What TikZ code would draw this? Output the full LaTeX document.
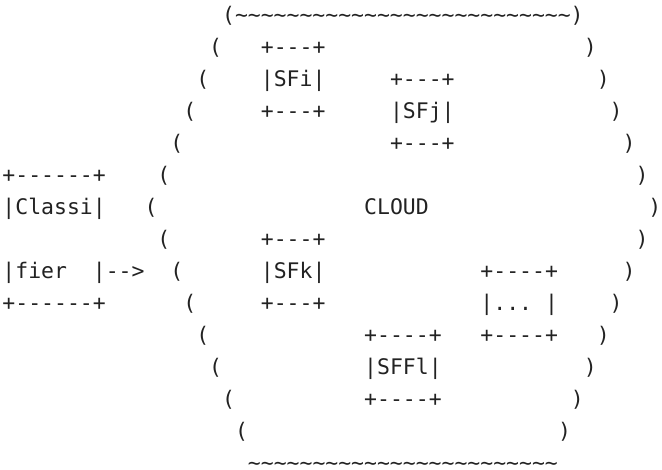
\documentclass[tikz,border=0pt]{standalone}
\usepackage{fontspec}
\newfontfamily\asciimono{DejaVu Sans Mono}[Ligatures=TeXOff]
\definecolor{ink}{HTML}{222222}
\begin{document}
\begin{tikzpicture}[x=12.92pt,y=-32pt,
  ch/.style={font=\asciimono\fontsize{21.45}{26}\selectfont, text=ink, inner sep=0pt, outer sep=0pt, anchor=base west}]
\useasboundingbox (0pt,0pt) rectangle (662pt,-470pt);
\begin{scope}[shift={(0.19,0.70)}]
% row 0
\node[ch] (top) at (17,0) {\detokenize{(~~~~~~~~~~~~~~~~~~~~~~~~~~)}};
% row 1
\node[ch] (l1) at (16,1) {(};
\node[ch] (sfiT) at (20,1) {+---+};
\node[ch] (r1) at (45,1) {)};
% row 2
\node[ch] (l2) at (15,2) {(};
\node[ch] (sfi) at (20,2) {|SFi|};
\node[ch] (sfjT) at (30,2) {+---+};
\node[ch] (r2) at (46,2) {)};
% row 3
\node[ch] (l3) at (14,3) {(};
\node[ch] (sfiB) at (20,3) {+---+};
\node[ch] (sfj) at (30,3) {|SFj|};
\node[ch] (r3) at (47,3) {)};
% row 4
\node[ch] (l4) at (13,4) {(};
\node[ch] (sfjB) at (30,4) {+---+};
\node[ch] (r4) at (48,4) {)};
% row 5
\node[ch] (clT) at (0,5) {+------+};
\node[ch] (l5) at (12,5) {(};
\node[ch] (r5) at (49,5) {)};
% row 6
\node[ch] (cl1) at (0,6) {|Classi|};
\node[ch] (l6) at (11,6) {(};
\node[ch] (cloud) at (28,6) {CLOUD};
\node[ch] (r6) at (50,6) {)};
% row 7
\node[ch] (l7) at (12,7) {(};
\node[ch] (sfkT) at (20,7) {+---+};
\node[ch] (r7) at (49,7) {)};
% row 8
\node[ch] (cl2) at (0,8) {|fier};
\node[ch] (arr) at (7,8) {|-{}->};
\node[ch] (l8) at (13,8) {(};
\node[ch] (sfk) at (20,8) {|SFk|};
\node[ch] (dotT) at (37,8) {+----+};
\node[ch] (r8) at (48,8) {)};
% row 9
\node[ch] (clB) at (0,9) {+------+};
\node[ch] (l9) at (14,9) {(};
\node[ch] (sfkB) at (20,9) {+---+};
\node[ch] (dot) at (37,9) {|...};
\node[ch] (dotR) at (42,9) {|};
\node[ch] (r9) at (47,9) {)};
% row 10
\node[ch] (l10) at (15,10) {(};
\node[ch] (sflT) at (28,10) {+----+};
\node[ch] (dotB) at (37,10) {+----+};
\node[ch] (r10) at (46,10) {)};
% row 11
\node[ch] (l11) at (16,11) {(};
\node[ch] (sfl) at (28,11) {|SFFl|};
\node[ch] (r11) at (45,11) {)};
% row 12
\node[ch] (l12) at (17,12) {(};
\node[ch] (sflB) at (28,12) {+----+};
\node[ch] (r12) at (44,12) {)};
% row 13
\node[ch] (l13) at (18,13) {(};
\node[ch] (r13) at (43,13) {)};
% row 14
\node[ch] (bot) at (19,14) {\smash{\detokenize{~~~~~~~~~~~~~~~~~~~~~~~~}}};
\end{scope}
\end{tikzpicture}
\end{document}
